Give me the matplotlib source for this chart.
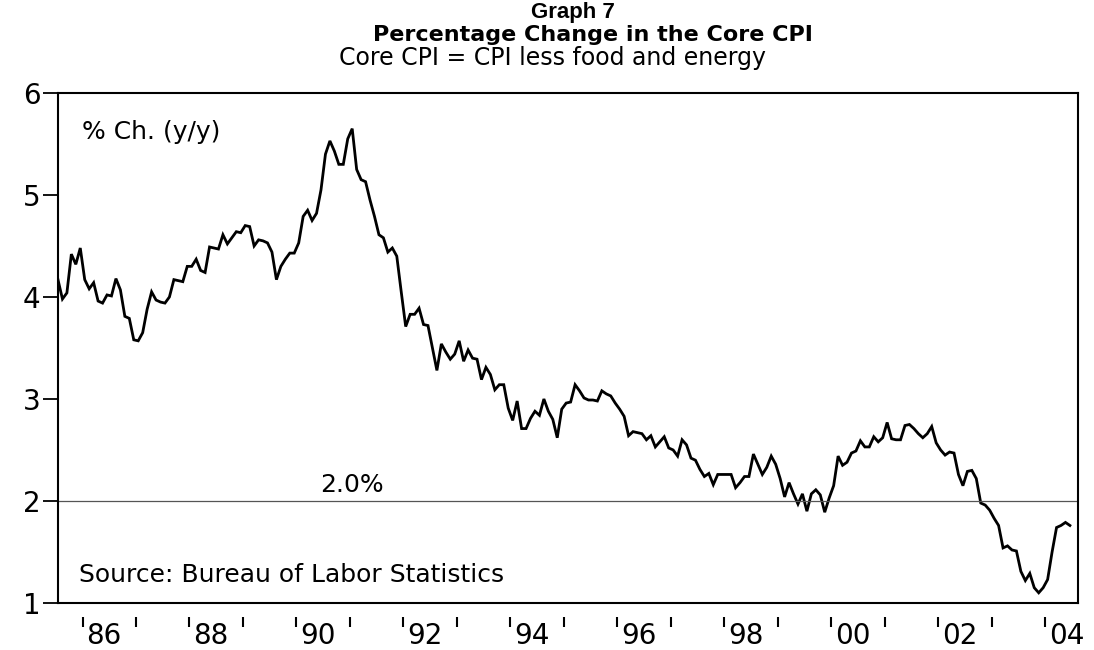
import matplotlib
matplotlib.use("Agg")
import matplotlib.pyplot as plt
import numpy as np

plt.rcParams['font.family'] = ['DejaVu Sans']

# monthly core CPI, % change y/y, starting Jul 1985
start_year = 1985
start_month = 7
core_cpi = [
    4.17, 3.98, 4.04, 4.42, 4.32, 4.48, 4.17, 4.08, 4.14, 3.96, 3.94, 4.02,
    4.01, 4.18, 4.07, 3.81, 3.79, 3.58, 3.57, 3.65, 3.88, 4.05, 3.97, 3.95,
    3.94, 4.00, 4.17, 4.16, 4.15, 4.30, 4.30, 4.37, 4.26, 4.24, 4.49, 4.48,
    4.47, 4.61, 4.52, 4.58, 4.64, 4.63, 4.70, 4.69, 4.50, 4.56, 4.55, 4.53,
    4.44, 4.17, 4.30, 4.37, 4.43, 4.43, 4.53, 4.79, 4.85, 4.75, 4.82, 5.05,
    5.40, 5.53, 5.43, 5.30, 5.30, 5.55, 5.65, 5.25, 5.15, 5.13, 4.95, 4.79,
    4.61, 4.58, 4.44, 4.48, 4.40, 4.05, 3.71, 3.83, 3.83, 3.89, 3.73, 3.72,
    3.50, 3.28, 3.54, 3.46, 3.39, 3.44, 3.57, 3.37, 3.48, 3.40, 3.39, 3.19,
    3.31, 3.24, 3.09, 3.14, 3.14, 2.91, 2.79, 2.98, 2.71, 2.71, 2.81, 2.88,
    2.84, 3.00, 2.88, 2.80, 2.62, 2.90, 2.96, 2.97, 3.14, 3.08, 3.01, 2.99,
    2.99, 2.98, 3.08, 3.05, 3.03, 2.96, 2.90, 2.83, 2.64, 2.68, 2.67, 2.66,
    2.60, 2.64, 2.53, 2.58, 2.63, 2.52, 2.50, 2.44, 2.60, 2.55, 2.42, 2.40,
    2.31, 2.24, 2.27, 2.16, 2.26, 2.26, 2.26, 2.26, 2.13, 2.18, 2.24, 2.24,
    2.46, 2.36, 2.26, 2.33, 2.44, 2.36, 2.22, 2.04, 2.18, 2.07, 1.97, 2.07,
    1.90, 2.07, 2.11, 2.06, 1.89, 2.03, 2.15, 2.44, 2.35, 2.38, 2.47, 2.49,
    2.59, 2.53, 2.53, 2.63, 2.58, 2.62, 2.77, 2.61, 2.60, 2.60, 2.74, 2.75,
    2.71, 2.66, 2.62, 2.66, 2.73, 2.57, 2.50, 2.45, 2.48, 2.47, 2.26, 2.15,
    2.29, 2.30, 2.22, 1.98, 1.96, 1.91, 1.83, 1.76, 1.54, 1.56, 1.52, 1.51,
    1.31, 1.22, 1.29, 1.15, 1.10, 1.15, 1.23, 1.50, 1.74, 1.76, 1.79, 1.76,
]
target = 2.0
years = list(range(1986, 2005))
year_labels = ["86", "88", "90", "92", "94", "96", "98", "00", "02", "04"]

# observations plotted at mid-month
t = start_year + (start_month - 1) / 12 + (np.arange(len(core_cpi)) + 0.5) / 12

fig = plt.figure(figsize=(10.94, 6.5), dpi=100)
ax = fig.add_axes([0.053, 0.0723, 0.9324, 0.7847])

ax.plot(t, core_cpi, color="black", lw=2.0, solid_joinstyle="miter")
ax.axhline(target, color="#555555", lw=0.9)

ax.set_xlim(t[0], 2004.61)
ax.set_ylim(1, 6)

# year ticks (detached below the frame), labels every second year
ax.spines['bottom'].set_position(('outward', 10))
ax.spines['bottom'].set_color('none')
ax.plot([0, 1], [0, 0], transform=ax.transAxes, color="black", lw=1.5, clip_on=False)
ax.set_xticks(years)
ax.set_xticklabels([])
ax.set_xticks([y + 0.4 for y in years[::2]], minor=True)
ax.set_xticklabels(year_labels, minor=True, fontsize=20)
ax.tick_params(axis='x', which='major', direction='out', length=7.5, width=1.5)
ax.tick_params(axis='x', which='minor', length=0, pad=3.5)

ax.set_yticks([1, 2, 3, 4, 5, 6])
ax.tick_params(axis='y', direction='out', length=11, width=1.3, labelsize=20, pad=1.5)

for s in ['left', 'top', 'right']:
    ax.spines[s].set_linewidth(1.5)

ax.text(0.024, 0.9235, "% Ch. (y/y)", transform=ax.transAxes, fontsize=18, va="center")
ax.text(0.021, 0.055, "Source: Bureau of Labor Statistics", transform=ax.transAxes,
        fontsize=18, va="center")
ax.text(1990.44, target + 0.04, "2.0%", fontsize=18, va="bottom")

fig.text(0.524, 0.981, "Graph 7", ha="center", va="center", fontsize=16,
         fontweight="bold", family="Liberation Sans")
fig.text(0.542, 0.946, "Percentage Change in the Core CPI", ha="center", va="center",
         fontsize=16, fontweight="bold")
fig.text(0.505, 0.911, "Core CPI = CPI less food and energy", ha="center", va="center",
         fontsize=17)

fig.savefig("out.png", dpi=100)
